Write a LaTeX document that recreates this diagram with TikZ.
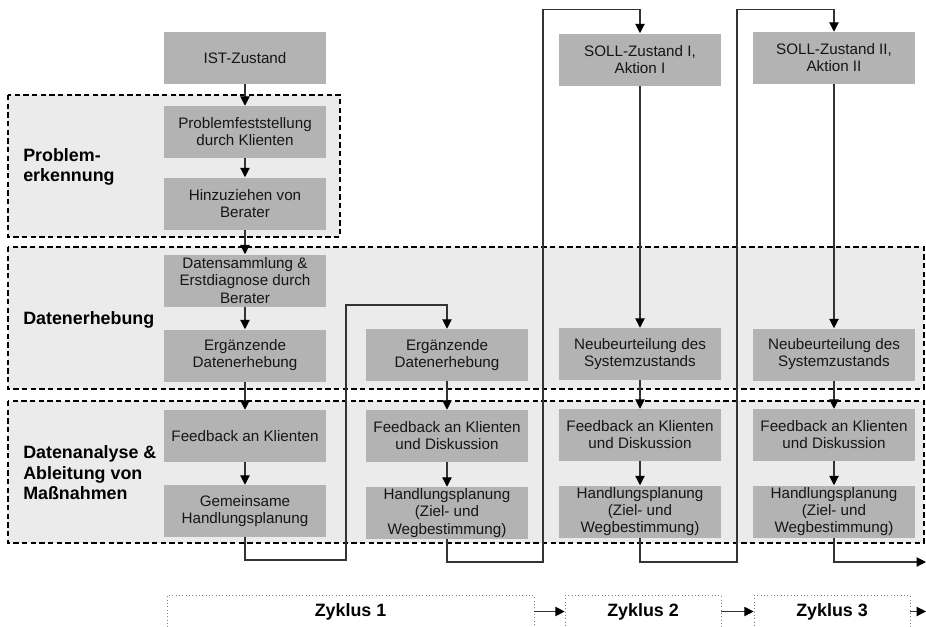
\documentclass[tikz,border=0pt]{standalone}
\usepackage{fontspec}
\setmainfont{Liberation Sans}
\usetikzlibrary{arrows.meta}
\definecolor{boxgray}{HTML}{B3B3B3}
\definecolor{grpgray}{HTML}{EBEBEB}
\definecolor{linegray}{HTML}{333333}
\definecolor{txtgray}{HTML}{161616}
\tikzset{
  stepbox/.style={fill=boxgray, minimum width=121.5pt, minimum height=39pt, inner sep=0pt,
    align=center, text=txtgray, font=\fontsize{11.4}{12.8}\selectfont},
  grp/.style={fill=grpgray, draw=black, line width=1pt, dash pattern=on 4pt off 2.5pt},
  grplabel/.style={anchor=west, align=left, inner sep=0pt, font=\fontsize{13.4}{15.4}\selectfont\bfseries},
  conn/.style={draw=linegray, line width=0.8pt},
  arr/.style={conn, -{Triangle[length=7pt,width=7pt,fill=black,color=black]}},
  zyk/.style={draw=gray, dotted, line width=0.5pt, minimum height=24pt, inner sep=0pt,
    font=\fontsize{13.4}{15}\selectfont\bfseries}
}
\begin{document}
\begin{tikzpicture}[x=0.75pt,y=-0.75pt]
\useasboundingbox (0,0) rectangle (926,626);
% groups
\path[grp] (8,95) rectangle (340,237);
\path[grp] (8,247) rectangle (924,389);
\path[grp] (8,401) rectangle (924,543);
% group labels
\node[grplabel] (L1) at (23,167) {Problem-\\erkennung};
\node[grplabel] (L2) at (23,320) {Datenerhebung};
\node[grplabel] (L3) at (23,473) {Datenanalyse \&\\Ableitung von\\Maßnahmen};
% column 1
\node[stepbox] (IST) at (245,58) {IST-Zustand};
\node[stepbox] (Prob) at (245,132) {Problemfeststellung\\durch Klienten};
\node[stepbox] (Hinz) at (245,203.5) {Hinzuziehen von\\Berater};
\node[stepbox] (Dat) at (245,280.5) {Datensammlung \&\\Erstdiagnose durch\\Berater};
\node[stepbox] (Erg1) at (245,355.5) {Ergänzende\\Datenerhebung};
\node[stepbox] (Fb1) at (245,436) {Feedback an Klienten};
\node[stepbox] (Gem) at (245,511) {Gemeinsame\\Handlungsplanung};
% column 2
\node[stepbox] (Erg2) at (447,355) {Ergänzende\\Datenerhebung};
\node[stepbox] (Fb2) at (447,436) {Feedback an Klienten\\und Diskussion};
\node[stepbox] (Hp2) at (447,513) {Handlungsplanung\\(Ziel- und\\Wegbestimmung)};
% column 3
\node[stepbox] (Soll1) at (640,59.5) {SOLL-Zustand I,\\Aktion I};
\node[stepbox] (Neu3) at (640,354) {Neubeurteilung des\\Systemzustands};
\node[stepbox] (Fb3) at (640,435) {Feedback an Klienten\\und Diskussion};
\node[stepbox] (Hp3) at (640,511.5) {Handlungsplanung\\(Ziel- und\\Wegbestimmung)};
% column 4
\node[stepbox] (Soll2) at (834,58) {SOLL-Zustand II,\\Aktion II};
\node[stepbox] (Neu4) at (834,354.5) {Neubeurteilung des\\Systemzustands};
\node[stepbox] (Fb4) at (834,435) {Feedback an Klienten\\und Diskussion};
\node[stepbox] (Hp4) at (834,511.5) {Handlungsplanung\\(Ziel- und\\Wegbestimmung)};
% straight arrows
\draw[arr] (IST) -- (Prob);
\draw[arr] (Prob) -- (Hinz);
\draw[arr] (Hinz) -- (Dat);
\draw[arr] (Dat) -- (Erg1);
\draw[arr] (Erg1) -- (Fb1);
\draw[arr] (Fb1) -- (Gem);
\draw[arr] (Erg2) -- (Fb2);
\draw[arr] (Fb2) -- (Hp2);
\draw[arr] (Soll1) -- (Neu3);
\draw[arr] (Neu3) -- (Fb3);
\draw[arr] (Fb3) -- (Hp3);
\draw[arr] (Soll2) -- (Neu4);
\draw[arr] (Neu4) -- (Fb4);
\draw[arr] (Fb4) -- (Hp4);
% loops
\coordinate (b1) at (346,560);
\coordinate (t1) at (346,305);
\coordinate (b2) at (543,562);
\coordinate (t2) at (543,9.5);
\coordinate (b3) at (737,562);
\coordinate (t3) at (737,9.5);
\coordinate (e4) at (926,562);
\draw[arr] (Gem.south) |- (b1) -- (t1) -| (Erg2.north);
\draw[arr] (Hp2.south) |- (b2) -- (t2) -| (Soll1.north);
\draw[arr] (Hp3.south) |- (b3) -- (t3) -| (Soll2.north);
\draw[arr] (Hp4.south) |- (e4);
% cycles
\node[zyk, minimum width=275.25pt] (Z1) at (350.5,611.5) {Zyklus 1};
\node[zyk, minimum width=117pt] (Z2) at (643,611.5) {Zyklus 2};
\node[zyk, minimum width=117pt] (Z3) at (832,611.5) {Zyklus 3};
\coordinate (ze) at (926,611.5);
\draw[arr] (Z1) -- (Z2);
\draw[arr] (Z2) -- (Z3);
\draw[arr] (Z3) -- (ze);
\end{tikzpicture}
\end{document}
